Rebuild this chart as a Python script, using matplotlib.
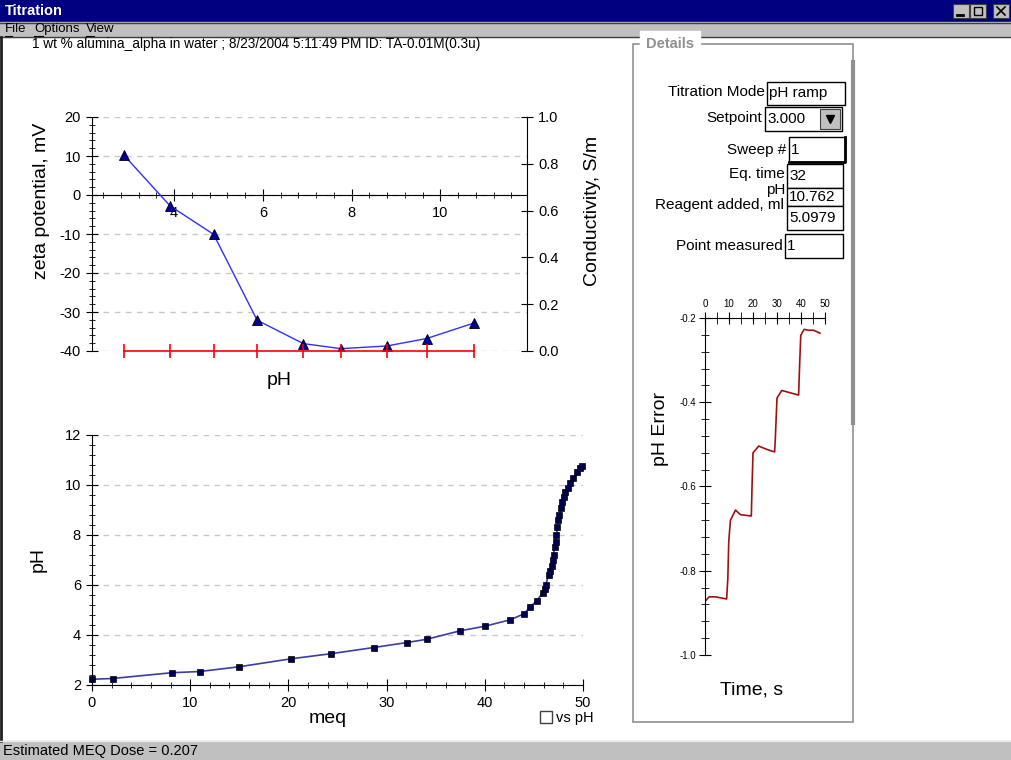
import matplotlib.pyplot as plt
import matplotlib.ticker as mticker
from matplotlib.patches import Rectangle

plt.rcParams['font.family'] = ['Liberation Sans', 'DejaVu Sans']
plt.rcParams['axes.unicode_minus'] = False

# zeta potential sweep
zeta_ph = [2.87, 3.91, 4.89, 5.87, 6.91, 7.76, 8.80, 9.69, 10.76]
zeta_mv = [10.2, -2.8, -10.1, -32.1, -38.1, -39.4, -38.7, -36.8, -32.8]
conductivity = [0.0, 0.0, 0.0, 0.0, 0.0, 0.0, 0.0, 0.0, 0.0]

# titration curve
meq = [0.0, 2.1, 8.1, 11.0, 15.0, 20.3, 24.3, 28.7, 32.1, 34.1, 37.5, 40.0,
       42.6, 44.0, 44.6, 45.3, 45.9, 46.1, 46.2, 46.5, 46.6, 46.8, 46.9, 47.0,
       47.1, 47.2, 47.3, 47.4, 47.5, 47.6, 47.8, 47.9, 48.1, 48.2, 48.5, 48.7,
       49.0, 49.4, 49.7, 49.9]
titr_ph = [2.23, 2.26, 2.49, 2.54, 2.73, 3.05, 3.25, 3.50, 3.70, 3.83, 4.17, 4.35,
           4.61, 4.85, 5.12, 5.37, 5.70, 5.86, 5.99, 6.40, 6.55, 6.78, 7.00, 7.20,
           7.52, 7.74, 8.02, 8.33, 8.60, 8.79, 9.10, 9.33, 9.53, 9.72, 9.87, 10.06,
           10.29, 10.52, 10.67, 10.76]

# pH error vs time for the current point
err_time = [0, 1.7, 4.4, 9.0, 9.5, 9.9, 10.6, 12.7, 14.8, 19.3, 19.6, 20.0, 22.4,
            25.8, 29.0, 29.3, 30.0, 32.0, 39.0, 39.4, 39.9, 41.3, 43.1, 45.2, 47.9]
err_ph = [-0.873, -0.862, -0.862, -0.867, -0.82, -0.73, -0.68, -0.656, -0.667,
          -0.67, -0.60, -0.52, -0.504, -0.512, -0.518, -0.486, -0.39, -0.372,
          -0.383, -0.316, -0.241, -0.227, -0.229, -0.229, -0.236]

detail_labels = ['Titration Mode', 'Setpoint', 'Sweep #', 'Eq. time', 'pH',
                 'Reagent added, ml', 'Point measured']
detail_values = ['pH ramp', '3.000', '1', '32', '10.762', '5.0979', '1']

W, H = 1012, 760
fig = plt.figure(figsize=(W / 100, H / 100), dpi=100, facecolor='white')


def box(left, top, right, bottom):
    return [left / W, 1 - bottom / H, (right - left) / W, (bottom - top) / H]


# window frame drawn in pixel coordinates
ui = fig.add_axes([0, 0, 1, 1], zorder=0)
ui.set_xlim(0, W)
ui.set_ylim(H, 0)
ui.axis('off')

gray = '#c0c0c0'
ui.add_patch(Rectangle((0, 0), W, 22, color='#000080'))
ui.text(5, 11, 'Titration', color='white', fontsize=10.5, fontweight='bold', va='center')
for x0 in (953, 970, 993):
    ui.add_patch(Rectangle((x0, 4), 16, 14, facecolor=gray, edgecolor='#404040', lw=0.8))
ui.plot([957, 963], [15, 15], color='black', lw=2)
ui.add_patch(Rectangle((974, 7), 8, 8, facecolor='none', edgecolor='black', lw=1))
ui.plot([997, 1005], [7, 15], color='black', lw=1.2)
ui.plot([997, 1005], [15, 7], color='black', lw=1.2)

ui.add_patch(Rectangle((0, 22), W, 15, color=gray))
ui.plot([0, W], [22.5, 22.5], color='#404040', lw=1)
ui.plot([0, W], [37, 37], color='#404040', lw=1)
for x0, word, ulen in ((5, 'File', 7), (34, 'Options', 9), (86, 'View', 8)):
    ui.text(x0, 29, word, fontsize=9.5, va='center')
    ui.plot([x0, x0 + ulen], [35.5, 35.5], color='black', lw=0.8)

ui.plot([1, 1], [37, 741], color='#202020', lw=2)
ui.add_patch(Rectangle((0, 741), W, 19, color=gray))
ui.plot([0, W], [741, 741], color='#e8e8e8', lw=1)
ui.text(3, 751, 'Estimated MEQ Dose = 0.207', fontsize=10.5, va='center')

ui.text(32, 44, '1 wt % alumina_alpha in water ; 8/23/2004 5:11:49 PM ID: TA-0.01M(0.3u)',
        fontsize=9.8, va='center')

# details group box
ui.add_patch(Rectangle((633, 44), 220, 678, facecolor='none', edgecolor='#909090', lw=1.2))
ui.plot([853, 853], [62, 423], color='#909090', lw=3)
ui.text(646, 44, 'Details', fontsize=10.5, fontweight='bold', color='#909090',
        va='center', backgroundcolor='white')

label_x = [765, 762, 786, 785, 785, 784, 783]
label_y = [92, 118, 150, 174, 190, 205, 246]
field_x = [767, 765, 789, 787, 787, 787, 785]
field_w = [78, 77, 56, 56, 56, 56, 58]
field_top = [82, 107, 137, 164, 188, 206, 234]
field_h = [23, 24, 25, 24, 18, 24, 24]
for i, (lab, val) in enumerate(zip(detail_labels, detail_values)):
    ui.text(label_x[i], label_y[i], lab, fontsize=11, ha='right', va='center')
    ui.add_patch(Rectangle((field_x[i], field_top[i]), field_w[i], field_h[i],
                           facecolor='white', edgecolor='black', lw=1))
    ui.text(field_x[i] + 2, field_top[i] + field_h[i] / 2, val, fontsize=11, va='center')
# focused field gets a heavier lower/right edge
ui.plot([789, 845, 845], [162, 162, 137], color='black', lw=2)
ui.add_patch(Rectangle((820, 109), 20, 20, facecolor=gray, edgecolor='#404040', lw=0.8))
ui.plot([830], [119], marker='v', color='black', ms=6)

# "vs pH" checkbox
ui.add_patch(Rectangle((540, 711), 12, 12, facecolor='white', edgecolor='#404040', lw=1))
ui.text(556, 718, 'vs pH', fontsize=10.5, va='center')

tick_kw = dict(direction='inout', colors='black', labelsize=10.5)
label_fs = 14

# zeta potential / conductivity vs pH
ax1 = fig.add_axes(box(92, 117, 527, 351), facecolor='none', zorder=2)
ax1.plot(zeta_ph, zeta_mv, color='#3030ff', lw=1, marker='^', ms=7,
         mfc='#0000a0', mec='black', mew=0.6, zorder=5)
ax1.set_xlim(2.15, 11.95)
ax1.set_ylim(-40, 20)
ax1.spines['bottom'].set_position(('data', 0))
ax1.spines['top'].set_visible(False)
ax1.spines['right'].set_visible(False)
ax1.xaxis.set_major_locator(mticker.FixedLocator([4, 6, 8, 10]))
ax1.xaxis.set_minor_locator(mticker.MultipleLocator(0.4))
ax1.yaxis.set_major_locator(mticker.MultipleLocator(10))
ax1.yaxis.set_minor_locator(mticker.MultipleLocator(2))
ax1.tick_params(which='major', length=9, **tick_kw)
ax1.tick_params(which='minor', length=5, direction='inout')
ax1.grid(axis='y', ls=(0, (4, 4)), color='#c8c8c8', lw=1)
ax1.set_ylabel('zeta potential, mV', fontsize=label_fs)
ax1.yaxis.set_label_coords(-0.097, 0.64)
ax1.set_xlabel('pH', fontsize=label_fs)
ax1.xaxis.set_label_coords(0.43, -0.09)

ax2 = ax1.twinx()
ax2.plot(zeta_ph, conductivity, color='#ff0000', lw=1.2, marker='|', ms=10, mew=1.2,
         clip_on=False)
ax2.set_ylim(0, 1)
for s in ('left', 'top', 'bottom'):
    ax2.spines[s].set_visible(False)
ax2.yaxis.set_major_locator(mticker.MultipleLocator(0.2))
ax2.yaxis.set_major_formatter(mticker.FormatStrFormatter('%.1f'))
ax2.tick_params(which='major', length=9, **tick_kw)
ax2.set_ylabel('Conductivity, S/m', fontsize=label_fs)
ax2.yaxis.set_label_coords(1.13, 0.6)

# titration curve
ax3 = fig.add_axes(box(92, 435, 583, 685), facecolor='none', zorder=2)
ax3.plot(meq, titr_ph, color='#3c3ca8', lw=1.2, marker='s', ms=5,
         mfc='#000050', mec='black', mew=0.5, clip_on=False)
ax3.set_xlim(0, 50)
ax3.set_ylim(2, 12)
ax3.spines['top'].set_visible(False)
ax3.spines['right'].set_visible(False)
ax3.xaxis.set_major_locator(mticker.MultipleLocator(10))
ax3.xaxis.set_minor_locator(mticker.MultipleLocator(2))
ax3.yaxis.set_major_locator(mticker.MultipleLocator(2))
ax3.yaxis.set_minor_locator(mticker.MultipleLocator(0.4))
ax3.tick_params(which='major', length=9, **tick_kw)
ax3.tick_params(which='minor', length=5, direction='inout')
ax3.grid(axis='y', ls=(0, (4, 4)), color='#c8c8c8', lw=1)
ax3.set_xlabel('meq', fontsize=label_fs)
ax3.xaxis.set_label_coords(0.48, -0.1)
ax3.set_ylabel('pH', fontsize=label_fs)
ax3.yaxis.set_label_coords(-0.092, 0.5)

# pH error trace
ax4 = fig.add_axes(box(705, 318, 825, 655), facecolor='none', zorder=2)
ax4.plot(err_time, err_ph, color='#a01010', lw=1.2)
ax4.set_xlim(0, 50)
ax4.set_ylim(-1.0, -0.2)
ax4.spines['bottom'].set_visible(False)
ax4.spines['right'].set_visible(False)
ax4.xaxis.tick_top()
ax4.xaxis.set_major_locator(mticker.MultipleLocator(10))
ax4.xaxis.set_minor_locator(mticker.MultipleLocator(5))
ax4.yaxis.set_major_locator(mticker.MultipleLocator(0.2))
ax4.yaxis.set_minor_locator(mticker.MultipleLocator(0.04))
ax4.yaxis.set_major_formatter(mticker.FormatStrFormatter('%.1f'))
ax4.tick_params(which='both', direction='inout', length=9, labelsize=7, pad=2)
ax4.tick_params(axis='y', which='minor', length=6)
ax4.set_ylabel('pH Error', fontsize=label_fs)
ax4.yaxis.set_label_coords(-0.3, 0.67)
ax4.xaxis.set_label_position('bottom')
ax4.set_xlabel('Time, s', fontsize=label_fs)
ax4.xaxis.set_label_coords(0.39, -0.08)

fig.savefig('out.png', dpi=100, facecolor='white')
